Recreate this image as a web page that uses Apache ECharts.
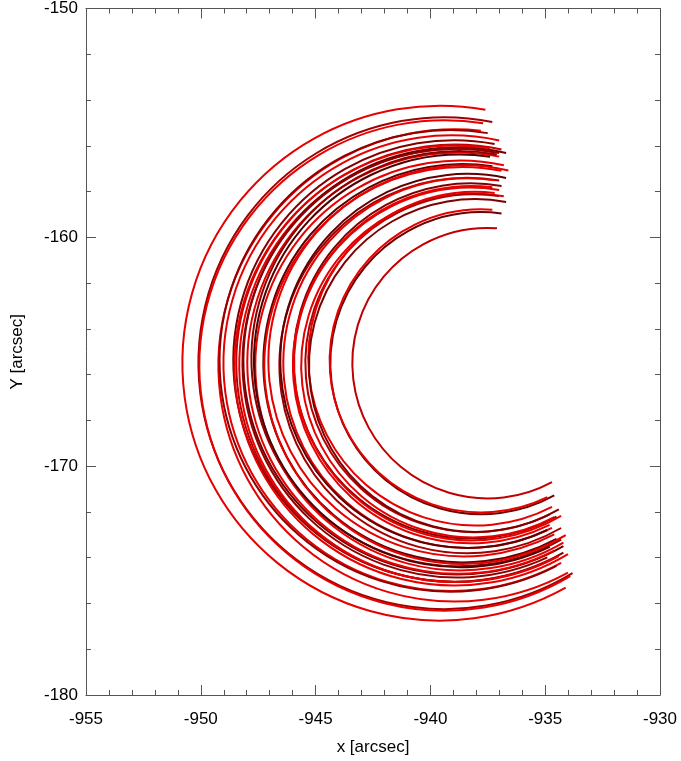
<!DOCTYPE html>
<html>
<head>
<meta charset="utf-8">
<script src="https://cdn.jsdelivr.net/npm/echarts@6/dist/echarts.min.js"></script>
<style>html,body{margin:0;padding:0;background:#fff}#c{width:681px;height:761px}</style>
</head>
<body>
<div id="c"></div>
<script>
// Each loop is a circular arc: leftmost x, radius, centre y, x of top end, x of bottom end (arcsec)
const leftX   = [-950.82,-950.12,-949.25,-949.03,-948.60,-948.47,-948.34,-948.16,-947.99,-947.81,-947.64,-947.29,-947.07,-946.59,-946.42,-945.98,-945.64,-945.46,-945.33,-944.37,-943.41,-948.55,-948.20,-947.70,-947.25,-946.55,-945.95,-945.30,-944.40,-949.20,-946.00,-950.08];
const radius  = [11.23,10.73,10.30,9.94,9.63,9.54,9.45,9.32,9.19,9.06,8.94,8.69,8.53,8.19,8.06,7.75,7.50,7.37,7.28,6.59,5.90,9.60,9.35,9.00,8.66,8.16,7.73,7.26,6.61,10.07,7.76,10.70];
const centerY = [-165.5,-165.5,-165.6,-165.5,-165.4,-165.5,-165.6,-165.4,-165.5,-165.3,-165.6,-165.5,-165.4,-165.6,-165.5,-165.4,-165.6,-165.5,-165.3,-165.5,-165.5,-165.6,-165.5,-165.4,-165.6,-165.4,-165.5,-165.6,-165.4,-165.4,-165.6,-165.6];
const topEndX = [-937.6,-937.3,-937.8,-937.0,-937.2,-936.9,-937.2,-936.7,-937.0,-937.1,-936.8,-937.3,-936.6,-937.0,-937.2,-936.9,-936.8,-937.0,-937.2,-936.9,-937.1,-937.4,-937.0,-937.4,-936.9,-936.7,-937.3,-936.7,-937.3,-937.5,-937.0,-937.7];
const botEndX = [-934.1,-933.8,-934.0,-934.3,-934.2,-934.5,-934.4,-934.2,-934.6,-934.3,-934.2,-934.5,-934.6,-934.3,-934.7,-934.5,-934.6,-934.8,-934.7,-934.6,-934.7,-934.0,-934.9,-934.8,-934.1,-934.9,-934.3,-934.4,-934.9,-934.5,-934.8,-933.9];
const loopColor = ['#e60000','#a00000','#e60000','#e60000','#800000','#c00000','#e60000','#700000','#e60000','#900000','#e60000','#600000','#e60000','#a00000','#e60000','#800000','#e60000','#b00000','#e60000','#700000','#c00000','#e60000','#900000','#500000','#e60000','#600000','#e60000','#800000','#e60000','#900000','#e60000','#e60000'];
const xTicks = [-955,-950,-945,-940,-935,-930];
const yTicks = [-180,-170,-160,-150];

const data = leftX.map((l,i)=>[l+radius[i], centerY[i], radius[i], topEndX[i], botEndX[i], i]);

const font = {fontFamily:'Liberation Sans, Arial, sans-serif', fontSize:17, color:'#000'};
const axisCommon = {
  axisLine:{show:true, lineStyle:{color:'#555', width:1}},
  axisTick:{show:true, inside:true, length:10, lineStyle:{color:'#555'}},
  minorTick:{show:true, splitNumber:5, length:5, lineStyle:{color:'#555'}},
  splitLine:{show:false}
};
const chart = echarts.init(document.getElementById('c'), null, {renderer:'canvas'});
chart.setOption({
  backgroundColor:'#fff',
  animation:false,
  grid:{left:86, right:21, top:8, bottom:66},
  xAxis:[
    Object.assign({type:'value', min:xTicks[0], max:xTicks[xTicks.length-1], interval:5, position:'bottom',
      name:'x [arcsec]', nameLocation:'middle', nameGap:44, nameTextStyle:font,
      axisLabel:Object.assign({margin:16}, font)}, axisCommon),
    Object.assign({type:'value', min:xTicks[0], max:xTicks[xTicks.length-1], interval:5, position:'top',
      axisLabel:{show:false}}, axisCommon)
  ],
  yAxis:[
    Object.assign({type:'value', min:yTicks[0], max:yTicks[yTicks.length-1], interval:10, position:'left',
      name:'Y [arcsec]', nameLocation:'middle', nameGap:60, nameRotate:90, nameTextStyle:font,
      axisLabel:Object.assign({margin:8}, font)}, axisCommon),
    Object.assign({type:'value', min:yTicks[0], max:yTicks[yTicks.length-1], interval:10, position:'right',
      axisLabel:{show:false}}, axisCommon)
  ],
  series:[{
    type:'custom',
    xAxisIndex:0, yAxisIndex:0,
    encode:{x:[0,3,4], y:1},
    data:data,
    clip:false,
    renderItem:function(params, api){
      const cx = api.value(0), cy = api.value(1), r = api.value(2), tx = api.value(3), bx = api.value(4);
      const c = api.coord([cx, cy]);
      const s = api.size([r, r]);
      const a0 = Math.acos(Math.max(-1, Math.min(1, (tx-cx)/r)));
      const b = Math.acos(Math.max(-1, Math.min(1, (bx-cx)/r)));
      return {
        type:'arc',
        shape:{cx:c[0], cy:c[1], r:(s[0]+s[1])/2, startAngle:b, endAngle:2*Math.PI-a0, clockwise:true},
        style:{stroke:loopColor[api.value(5)], fill:'none', lineWidth:2}
      };
    }
  }]
});
</script>
</body>
</html>
